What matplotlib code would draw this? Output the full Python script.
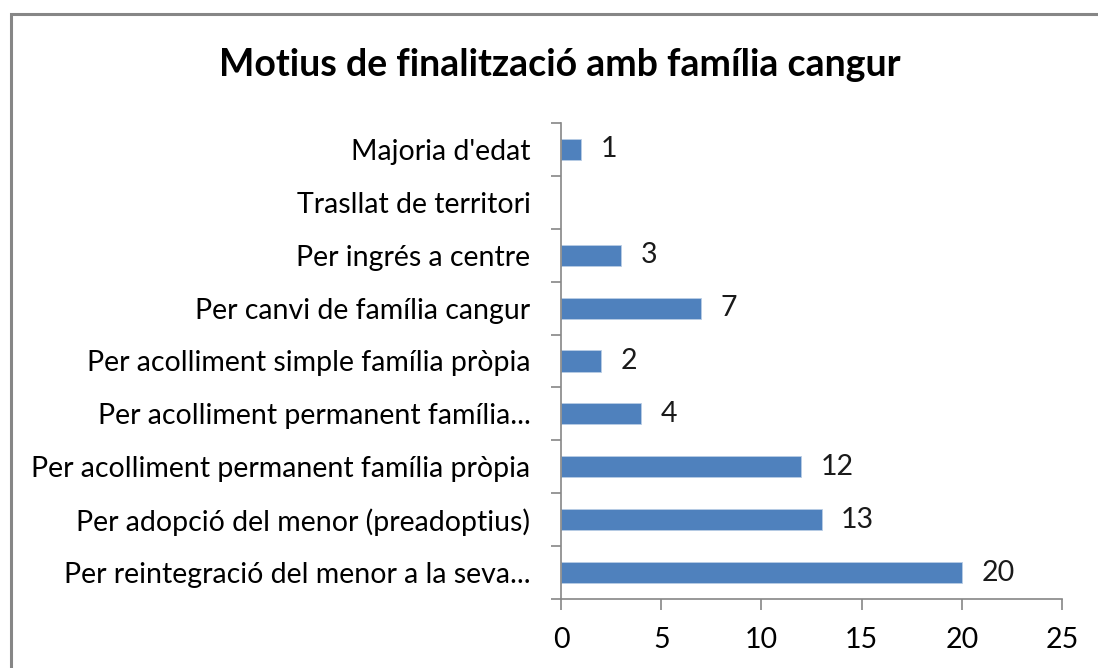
import numpy as np
import matplotlib.pyplot as plt
from matplotlib.patches import Rectangle

categories = [
    "Per reintegració del menor a la seva...",
    "Per adopció del menor (preadoptius)",
    "Per acolliment permanent família pròpia",
    "Per acolliment permanent família...",
    "Per acolliment simple família pròpia",
    "Per canvi de família cangur",
    "Per ingrés a centre",
    "Trasllat de territori",
    "Majoria d'edat",
]
values = [20, 13, 12, 4, 2, 7, 3, None, 1]
xticks = [0, 5, 10, 15, 20, 25]

W, H = 1098, 668
fig = plt.figure(figsize=(W / 100, H / 100), dpi=100)
plt.rcParams['font.family'] = ['Lato', 'DejaVu Sans']
fs = 20.5

# chart border (runs past right and bottom edges like the crop)
fig.patches.append(Rectangle((10.5 / W, -0.1), 1.2, 1 - 14.5 / H + 0.1,
                             transform=fig.transFigure, fill=False,
                             edgecolor='#868686', lw=2.2))

ax = fig.add_axes([561 / W, 69 / H, 501 / W, 476 / H])
y = np.arange(len(categories))
vals = [np.nan if v is None else v for v in values]
ax.barh(y, vals, height=0.4, color='#4F81BD', edgecolor='#B9CDE5', lw=0.6)

for yi, v in zip(y, values):
    if v is None:
        continue
    ax.annotate(str(v), (v, yi), xytext=(14, 0), textcoords='offset points',
                ha='left', va='center', fontsize=fs, color='#1a1a1a')

ax.set_xlim(0, 25)
ax.set_ylim(-0.5, len(categories) - 0.5)
ax.set_xticks(xticks)
ax.set_xticklabels([str(t) for t in xticks], fontsize=fs)
ax.set_yticks(y)
ax.set_yticklabels(categories, fontsize=fs)
ax.set_yticks(np.arange(len(categories) + 1) - 0.5, minor=True)
ax.tick_params(axis='y', which='major', length=0, pad=22)
ax.tick_params(axis='y', which='minor', length=7, color='#868686', width=1.2)
ax.tick_params(axis='x', length=8, color='#868686', width=1.2, pad=12)

for s in ['top', 'right']:
    ax.spines[s].set_visible(False)
for s in ['left', 'bottom']:
    ax.spines[s].set_color('#868686')
    ax.spines[s].set_linewidth(1.2)

fig.text(560 / W, 1 - 65 / H, "Motius de finalització amb família cangur",
         ha='center', va='center', fontsize=27, fontweight='bold')

fig.savefig('out.png', dpi=100)
